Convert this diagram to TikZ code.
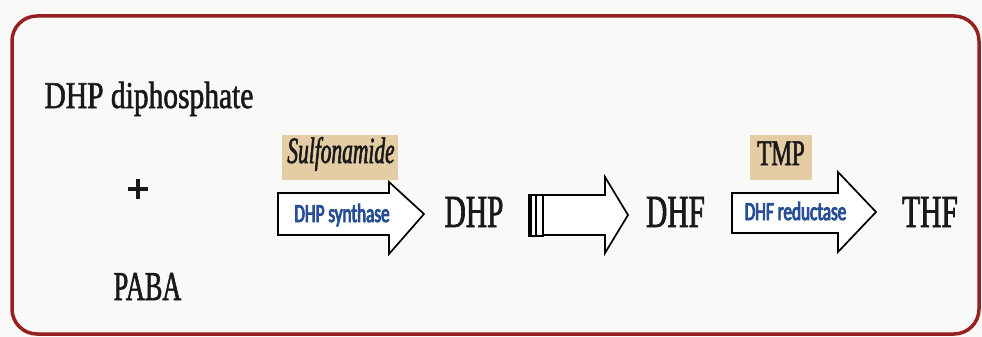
\documentclass[tikz,border=0pt]{standalone}
\usepackage{fontspec}
\setmainfont{Liberation Serif}
\newfontfamily\serifwide[FakeStretch=0.78, FakeBold=1.5]{Liberation Serif}
\newfontfamily\serifnarrow[FakeStretch=0.64, FakeBold=1.5]{Liberation Serif}
\newfontfamily\drugfont[FakeStretch=0.58, FakeBold=1.5]{Liberation Serif Italic}
\newfontfamily\plusfont[FakeBold=2.5]{Liberation Serif Bold}
\newfontfamily\enzymefont[FakeStretch=0.66, FakeBold=3.5]{Carlito}

\definecolor{paper}{RGB}{249,249,247}
\definecolor{framered}{RGB}{150,32,32}
\definecolor{drugtan}{RGB}{228,205,165}
\definecolor{enzblue}{RGB}{40,78,150}
\definecolor{ink}{RGB}{25,25,25}

\tikzset{
  chem/.style={inner sep=0pt, anchor=base, text=ink},
  enzyme/.style={inner sep=0pt, anchor=base, text=enzblue,
    font=\enzymefont\fontsize{26}{28}\selectfont},
  drugbox/.style={fill=drugtan, draw=none, inner sep=0pt},
  drugtext/.style={inner sep=0pt, anchor=base, text=ink},
  blockarrow/.style={draw=black, line width=1.7pt, fill=white, line join=miter},
  frame/.style={draw=framered, line width=3.5pt, rounded corners=25pt},
}

\begin{document}
\begin{tikzpicture}[x=1pt, y=-1pt]
  % page and outer frame
  \fill[paper] (0,0) rectangle (982,337);
  \useasboundingbox (0,0) rectangle (982,337);
  \draw[frame] (12,16) rectangle (979,334);

  % substrates
  \node[chem, font=\serifwide\fontsize{37.8}{40}\selectfont] (dhpp) at (149,108) {DHP diphosphate};
  \node[inner sep=0pt, text=ink, font=\plusfont\fontsize{40}{42}\selectfont] (plus) at (138,191) {+};
  \node[chem, font=\serifnarrow\fontsize{41}{43}\selectfont] (paba) at (147.5,300) {PABA};

  % inhibitor boxes
  \node[drugbox, minimum width=116pt, minimum height=45pt] (sulfbox) at (340,157.5) {};
  \node[drugtext, font=\drugfont\fontsize{37}{39}\selectfont] (sulf) at (341,163) {Sulfonamide};
  \node[drugbox, minimum width=62pt, minimum height=45pt] (tmpbox) at (781,157.5) {};
  \node[drugtext, font=\serifnarrow\fontsize{36}{38}\selectfont] (tmp) at (781,165) {TMP};

  % block arrows
  \draw[blockarrow] (278,193) -- (389,193) -- (389,182) -- (424,214)
    -- (389,254) -- (389,235) -- (278,235) -- cycle;
  \draw[blockarrow] (543,195) -- (605,195) -- (605,177) -- (628,215)
    -- (605,253) -- (605,235) -- (543,235) -- cycle;
  \draw[blockarrow] (732,193) -- (838,193) -- (838,172) -- (876,212)
    -- (838,252) -- (838,233) -- (732,233) -- cycle;

  % double bar at the tail of the middle arrow
  \draw[line width=1.5pt, fill=white] (529,195) rectangle (536,236);
  \draw[line width=1.5pt, fill=white] (536,195) rectangle (543,236);
  \draw[line width=3pt] (530.5,195) -- (530.5,236);

  % enzyme labels
  \node[enzyme] (synth) at (342,222) {DHP synthase};
  \node[enzyme] (redu) at (795.5,220) {DHF reductase};

  % intermediates and product
  \node[chem, font=\serifnarrow\fontsize{46}{48}\selectfont] (dhp) at (474,227) {DHP};
  \node[chem, font=\serifnarrow\fontsize{46}{48}\selectfont] (dhf) at (675.5,227) {DHF};
  \node[chem, font=\serifnarrow\fontsize{46}{48}\selectfont] (thf) at (930,227) {THF};
\end{tikzpicture}
\end{document}
